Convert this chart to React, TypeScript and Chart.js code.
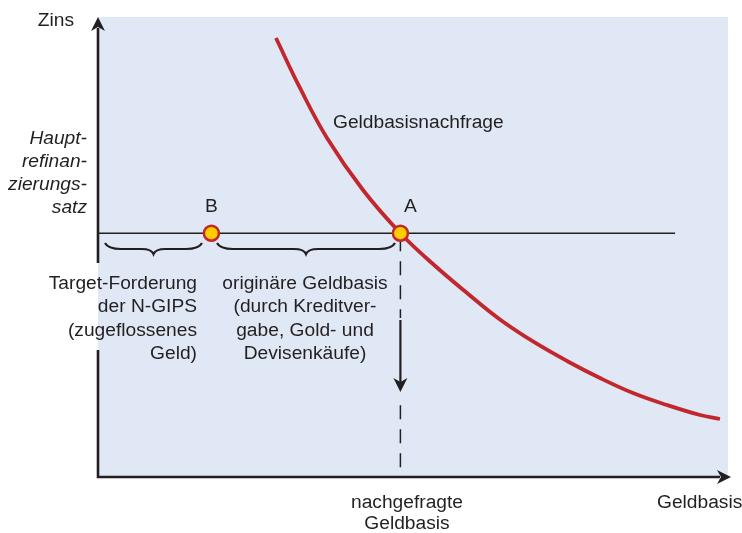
import React, { useEffect, useRef } from "react";
import { Chart, registerables } from "chart.js";

Chart.register(...registerables);

// Data (abstract units: x 0..100, y 0..100)
const demandX = [28.25, 32.06, 36.35, 42.06, 48.0, 53.17, 58.57, 63.81, 69.05, 74.44, 79.68, 84.92, 90.32, 95.56, 98.73];
const demandY = [95.43, 84.57, 73.7, 62.39, 53.0, 46.3, 40.0, 34.24, 29.46, 25.22, 21.52, 18.26, 15.65, 13.48, 12.61];
const rateLevel = 53;
const rateLineEnd = 91.6;
const pointLabels = ["B", "A"];
const pointX = [18, 48];
const yLabelLines = ["Haupt-", "refinan-", "zierungs-", "satz"];
const targetLines = ["Target-Forderung", "der N-GIPS", "(zugeflossenes", "Geld)"];
const originLines = ["originäre Geldbasis", "(durch Kreditver-", "gabe, Gold- und", "Devisenkäufe)"];
const demandedLines = ["nachgefragte", "Geldbasis"];
const curveLabel = "Geldbasisnachfrage";
const yAxisTitle = "Zins";
const xAxisTitle = "Geldbasis";

const RED = "#c1272d";
const YELLOW = "#ffcc00";
const BG = "#e0e8f5";
const INK = "#231f20";
const FONT = "19.2px 'Liberation Sans', Arial, sans-serif";
const IFONT = "italic 19.2px 'Liberation Sans', Arial, sans-serif";

function brace(ctx: CanvasRenderingContext2D, x1: number, x2: number, y0: number) {
  const mid = (x1 + x2) / 2;
  ctx.beginPath();
  ctx.moveTo(x1, y0);
  ctx.quadraticCurveTo(x1 + 3, y0 + 6, x1 + 16, y0 + 6);
  ctx.lineTo(mid - 12, y0 + 6);
  ctx.quadraticCurveTo(mid - 2, y0 + 6, mid, y0 + 11);
  ctx.quadraticCurveTo(mid + 2, y0 + 6, mid + 12, y0 + 6);
  ctx.lineTo(x2 - 16, y0 + 6);
  ctx.quadraticCurveTo(x2 - 3, y0 + 6, x2, y0);
  ctx.stroke();
}

function arrowHead(ctx: CanvasRenderingContext2D, tx: number, ty: number, dir: "up" | "down" | "right") {
  const L = 14, W = 7, N = 4;
  ctx.beginPath();
  if (dir === "up") {
    ctx.moveTo(tx, ty);
    ctx.lineTo(tx + W, ty + L);
    ctx.lineTo(tx, ty + L - N);
    ctx.lineTo(tx - W, ty + L);
  } else if (dir === "down") {
    ctx.moveTo(tx, ty);
    ctx.lineTo(tx + W, ty - L);
    ctx.lineTo(tx, ty - L + N);
    ctx.lineTo(tx - W, ty - L);
  } else {
    ctx.moveTo(tx, ty);
    ctx.lineTo(tx - L, ty - W);
    ctx.lineTo(tx - L + N, ty);
    ctx.lineTo(tx - L, ty + W);
  }
  ctx.closePath();
  ctx.fill();
}

const decorPlugin = {
  id: "decor",
  beforeDraw(chart: any) {
    const { ctx, chartArea } = chart;
    ctx.save();
    ctx.fillStyle = "#ffffff";
    ctx.fillRect(0, 0, chart.width, chart.height);
    ctx.fillStyle = BG;
    ctx.fillRect(chartArea.left, chartArea.top, chartArea.right - chartArea.left, chartArea.bottom - chartArea.top);
    ctx.restore();
  },
  beforeDatasetsDraw(chart: any) {
    const { ctx, chartArea } = chart;
    const xs = chart.scales.x, ys = chart.scales.y;
    const ax = xs.getPixelForValue(pointX[1]);
    const ay = ys.getPixelForValue(rateLevel);
    ctx.save();
    ctx.strokeStyle = INK;
    ctx.fillStyle = INK;
    ctx.lineWidth = 1.5;
    ctx.setLineDash([14, 10]);
    ctx.beginPath();
    ctx.moveTo(ax, ay + 4);
    ctx.lineTo(ax, chartArea.bottom);
    ctx.stroke();
    ctx.setLineDash([]);
    // solid arrow segment
    ctx.fillStyle = BG;
    ctx.fillRect(ax - 2, 318, 4, 80);
    ctx.fillStyle = INK;
    ctx.lineWidth = 2.2;
    ctx.beginPath();
    ctx.moveTo(ax, 320);
    ctx.lineTo(ax, 384);
    ctx.stroke();
    arrowHead(ctx, ax, 392, "down");
    ctx.restore();
  },
  afterDraw(chart: any) {
    const { ctx, chartArea } = chart;
    const xs = chart.scales.x;
    const L = chartArea.left, B = chartArea.bottom;
    ctx.save();
    // axes
    ctx.strokeStyle = INK;
    ctx.fillStyle = INK;
    ctx.lineWidth = 2.6;
    ctx.beginPath();
    ctx.moveTo(L, B + 1.3);
    ctx.lineTo(L, 350);
    ctx.moveTo(L, 263);
    ctx.lineTo(L, 28);
    ctx.moveTo(L - 1.3, B);
    ctx.lineTo(720, B);
    ctx.stroke();
    arrowHead(ctx, L, 17, "up");
    arrowHead(ctx, 731, B, "right");

    // braces
    ctx.lineWidth = 2.2;
    brace(ctx, 105, 202, 243);
    brace(ctx, 217, 395, 243);

    // texts
    ctx.fillStyle = INK;
    ctx.textBaseline = "alphabetic";
    ctx.font = FONT;
    ctx.textAlign = "right";
    ctx.fillText(yAxisTitle, 74, 26);
    ctx.font = IFONT;
    yLabelLines.forEach((t, i) => ctx.fillText(t, 87, 144 + i * 23));
    ctx.font = FONT;
    targetLines.forEach((t, i) => ctx.fillText(t, 197, 289 + i * 23.3));
    ctx.textAlign = "center";
    originLines.forEach((t, i) => ctx.fillText(t, 305, 289 + i * 23.3));
    demandedLines.forEach((t, i) => ctx.fillText(t, 407, 508 + i * 21));
    pointLabels.forEach((t, i) => {
      ctx.fillText(t, xs.getPixelForValue(pointX[i]) + (i === 1 ? 10 : 0), 212);
    });
    ctx.textAlign = "left";
    ctx.fillText(curveLabel, 333, 128);
    ctx.fillText(xAxisTitle, 657, 508);
    ctx.restore();
  },
};

export default function App() {
  const ref = useRef<HTMLCanvasElement | null>(null);
  useEffect(() => {
    if (!ref.current) return;
    const chart = new Chart(ref.current, {
      type: "scatter",
      data: {
        datasets: [
          {
            data: pointX.map((x) => ({ x, y: rateLevel })),
            pointRadius: 7.5,
            pointBackgroundColor: YELLOW,
            pointBorderColor: RED,
            pointBorderWidth: 2.5,
            showLine: false,
            order: 0,
          },
          {
            data: demandX.map((x, i) => ({ x, y: demandY[i] })),
            showLine: true,
            borderColor: RED,
            borderWidth: 3.8,
            pointRadius: 0,
            tension: 0.4,
            order: 1,
          },
          {
            data: [
              { x: 0, y: rateLevel },
              { x: rateLineEnd, y: rateLevel },
            ],
            showLine: true,
            borderColor: INK,
            borderWidth: 1.4,
            pointRadius: 0,
            order: 2,
          },
        ],
      },
      options: {
        animation: false,
        responsive: false,
        events: [],
        layout: { padding: { left: 98, right: 14, top: 17, bottom: 56 } },
        scales: {
          x: { type: "linear", min: 0, max: 100, display: false },
          y: { type: "linear", min: 0, max: 100, display: false },
        },
        plugins: { legend: { display: false }, tooltip: { enabled: false } },
      } as any,
      plugins: [decorPlugin],
    });
    return () => chart.destroy();
  }, []);
  return (
    <div style={{ position: "fixed", left: 0, top: 0, width: 742, height: 533, background: "#fff" }}>
      <canvas ref={ref} width={742} height={533} style={{ width: 742, height: 533, display: "block" }} />
    </div>
  );
}
